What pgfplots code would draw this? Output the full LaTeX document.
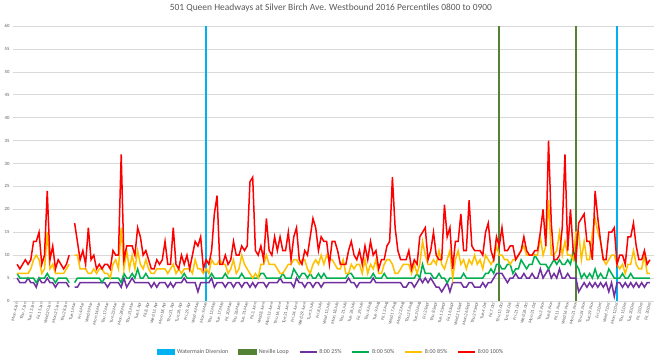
\documentclass[border=0pt]{standalone}
\usepackage{fontspec}
\setmainfont{Carlito}
\usepackage{pgfplots}
\pgfplotsset{compat=1.18}
\usepackage{pgfplotstable}
\definecolor{txt}{HTML}{595959}
\definecolor{gridc}{HTML}{D9D9D9}
\definecolor{wblue}{HTML}{00B0F0}
\definecolor{nloop}{HTML}{548235}
\definecolor{pA}{HTML}{7030A0}
\definecolor{pB}{HTML}{00B050}
\definecolor{pC}{HTML}{FFC000}
\definecolor{pD}{HTML}{FF0000}

\pgfplotstableread{
i r y g p
0 8 6 6 5
1 7 6 5 4
2 8 6 5 4
3 9 6 5 4
4 8 6 5 5
5 9 7 5 4
6 13 9 5 4
7 13 10 4 3
8 15 9 5 5
9 8 6 5 4
10 10 7 5 4
11 24 15 6 5
12 9 7 5 4
13 12 8 5 4
14 7 6 4 3
15 9 6 5 4
16 8 6 5 4
17 7 6 5 4
18 8 7 5 4
19 10 8 4 3
20 nan nan nan nan
21 17 10 4 3
22 13 10 5 3
23 9 7 5 4
24 11 7 5 4
25 8 7 5 4
26 16 6 5 4
27 9 6 5 4
28 10 7 5 4
29 7 6 5 4
30 8 7 5 4
31 7 7 4 4
32 8 6 5 4
33 8 6 5 3
34 7 5 5 4
35 11 8 5 4
36 10 9 5 4
37 10 7 5 4
38 32 16 4 3
39 9 7 6 5
40 12 11 5 3
41 12 7 5 4
42 12 10 6 5
43 10 7 5 4
44 16 11 7 4
45 14 8 5 4
46 10 7 5 4
47 11 9 6 4
48 9 7 5 4
49 7 6 5 3
50 7 6 5 4
51 9 7 5 3
52 8 7 5 4
53 9 7 5 4
54 13 7 5 4
55 8 6 5 3
56 8 7 5 4
57 16 8 5 3
58 8 6 5 4
59 7 7 5 4
60 10 6 5 4
61 8 7 6 5
62 10 7 5 4
63 7 7 5 4
64 10 6 5 4
65 13 9 5 4
66 12 7 5 2
67 14 7 5 4
68 7 6 5 4
69 9 7 5 4
70 8 6 5 4
71 11 9 6 5
72 19 8 5 3
73 23 8 5 4
74 8 9 5 4
75 8 8 5 4
76 10 8 6 3
77 8 6 5 4
78 9 7 5 4
79 13 9 5 3
80 10 6 5 4
81 10 7 5 4
82 12 10 6 3
83 11 8 5 4
84 12 7 5 4
85 26 6 5 3
86 27 5 5 4
87 11 6 5 3
88 10 5 5 4
89 12 8 6 4
90 9 8 6 4
91 18 10 5 3
92 11 8 5 4
93 10 8 5 4
94 14 8 5 4
95 11 7 5 4
96 14 6 5 5
97 11 6 6 4
98 11 7 5 4
99 15 8 5 4
100 9 8 5 4
101 14 9 7 3
102 16 9 6 5
103 9 8 5 4
104 8 9 6 4
105 11 9 6 3
106 10 7 5 4
107 14 6 6 4
108 18 8 5 3
109 16 9 5 4
110 11 8 6 4
111 14 10 5 3
112 13 8 6 4
113 13 10 5 4
114 8 9 5 4
115 13 9 5 4
116 13 8 5 4
117 11 7 5 4
118 8 7 5 4
119 8 9 5 4
120 8 6 5 4
121 11 6 6 5
122 13 8 6 4
123 10 7 5 4
124 9 8 5 3
125 11 8 5 4
126 8 6 5 4
127 12 9 5 4
128 9 6 5 4
129 13 8 5 4
130 10 7 6 5
131 11 9 5 4
132 7 6 5 4
133 9 6 5 4
134 9 8 6 4
135 12 9 5 4
136 13 9 5 4
137 27 8 5 4
138 16 6 5 4
139 11 6 5 4
140 9 7 5 4
141 9 8 5 3
142 9 8 5 3
143 11 8 5 4
144 7 6 5 4
145 9 8 5 3
146 8 6 6 4
147 14 8 5 5
148 15 13 8 4
149 16 10 6 5
150 9 8 6 4
151 11 8 6 5
152 15 9 5 4
153 10 8 5 3
154 9 11 6 3
155 9 8 5 2
156 21 7 5 3
157 14 9 4 4
158 16 11 5 2
159 7 5 5 4
160 13 9 5 4
161 13 11 5 4
162 19 8 5 4
163 11 9 6 3
164 11 7 5 3
165 22 9 5 4
166 12 8 5 4
167 11 10 5 3
168 11 8 5 3
169 11 9 5 3
170 10 7 5 4
171 15 10 6 3
172 17 9 6 4
173 11 8 7 4
174 9 9 6 5
175 14 12 8 6
176 12 10 8 6
177 16 10 7 6
178 11 9 7 5
179 11 9 8 4
180 12 8 8 5
181 12 9 6 5
182 9 9 7 6
183 10 10 7 5
184 11 11 9 5
185 14 12 8 6
186 11 10 7 5
187 10 10 8 5
188 10 10 8 6
189 11 10 10 5
190 11 10 9 5
191 15 14 8 7
192 20 10 8 5
193 12 12 8 6
194 35 22 7 7
195 17 10 8 5
196 9 10 9 6
197 9 11 8 5
198 10 15 9 7
199 16 10 8 5
200 32 13 8 5
201 11 10 9 6
202 20 10 8 5
203 11 9 11 5
204 9 15 8 5
205 17 15 7 2
206 18 9 5 3
207 19 13 6 4
208 13 9 5 3
209 13 9 6 4
210 9 15 5 3
211 24 18 7 4
212 18 15 5 3
213 13 13 6 4
214 9 9 5 3
215 9 8 5 4
216 15 9 7 2
217 15 10 6 4
218 16 10 5 1
219 8 8 5 4
220 10 7 5 4
221 10 8 6 3
222 8 6 5 4
223 14 8 5 3
224 14 8 6 4
225 17 11 5 3
226 12 8 5 4
227 9 7 5 3
228 9 7 5 4
229 11 10 5 3
230 8 6 5 4
231 9 6 5 4
}\data

\begin{document}
\begin{tikzpicture}
\begin{axis}[name=ax, scale only axis, width=641bp, height=275bp,
  xmin=-1.5, xmax=232.5, ymin=0, ymax=60,
  ytick={0,5,...,60}, ymajorgrids,
  major grid style={draw=gridc, line width=0.6bp},
  axis line style={draw=none}, major tick length=0pt,
  xtick={0,3,...,231},
  xticklabels={Mon.4.Jan, Thu.7.Jan, Tue.12.Jan, Fri.15.Jan, Wed.20.Jan, Mon.25.Jan, Thu.28.Jan, Tue.1.Mar, Fri.4.Mar, Wed.9.Mar, Mon.14.Mar, Thu.17.Mar, Tue.22.Mar, Mon.28.Mar, Thu.31.Mar, Tue.5.Apr, Fri.8.Apr, Wed.13.Apr, Mon.18.Apr, Thu.21.Apr, Tue.26.Apr, Fri.29.Apr, Wed.4.May, Mon.9.May, Thu.12.May, Tue.17.May, Fri.20.May, Thu.26.May, Tue.31.May, Fri.3.June, Wed.8.June, Mon.13.June, Thu.16.June, Tue.21.June, Fri.24.June, Wed.29.June, Tue.5.July, Fri.8.July, Wed.13.July, Mon.18.July, Thu.21.July, Tue.26.July, Fri.29.July, Thu.4.Aug, Tue.9.Aug, Fri.12.Aug, Wed.17.Aug, Mon.22.Aug, Thu.25.Aug, Tue.30.Aug, Fri.2.Sept, Thu.8.Sept, Tue.13.Sept, Fri.16.Sept, Wed.21.Sept, Mon.26.Sept, Thu.29.Sept, Tue.4.Oct, Fri.7.Oct, Thu.13.Oct, Tue.18.Oct, Fri.21.Oct, Wed.26.Oct, Mon.31.Oct, Thu.3.Nov, Tue.8.Nov, Fri.11.Nov, Wed.16.Nov, Mon.21.Nov, Thu.24.Nov, Tue.29.Nov, Fri.2.Dec, Wed.7.Dec, Mon.12.Dec, Thu.15.Dec, Tue.20.Dec, Fri.23.Dec, Fri.30.Dec},
  xticklabel style={rotate=78, anchor=east, font=\fontsize{4.5}{5}\selectfont, text=txt, inner sep=1.2bp},
  yticklabel style={font=\fontsize{4.8}{5}\selectfont, text=txt},
  /pgf/number format/assume math mode=true,
  unbounded coords=jump,
  title={501 Queen Headways at Silver Birch Ave. Westbound 2016 Percentiles 0800 to 0900},
  title style={font=\fontsize{9.5}{11}\selectfont, text=txt, at={(0.496,1)}, anchor=center, yshift=12bp},
  legend columns=-1,
  legend style={at={(0.496,-0.185)}, anchor=center, draw=none, fill=none,
    font=\fontsize{6}{7}\selectfont, text=txt,
    /tikz/every even column/.append style={column sep=8bp}},
  legend image code/.code={\draw[#1, line width=1.5bp] (0bp,0bp) -- (17bp,0bp);},
]
\addplot[ycomb, draw=wblue, line width=1.6bp,
  legend image code/.code={\fill[wblue] (0bp,-2bp) rectangle (17bp,2bp);}]
  coordinates {(69,60) (219,60)};
\addlegendentry{Watermain Diversion}
\addplot[ycomb, draw=nloop, line width=1.6bp,
  legend image code/.code={\fill[nloop] (0bp,-2bp) rectangle (17bp,2bp);}]
  coordinates {(176,60) (204,60)};
\addlegendentry{Neville Loop}
\addplot[pA, line width=1.5bp] table[x=i, y=p] {\data};
\addlegendentry{8:00 25\%}
\addplot[pB, line width=1.5bp] table[x=i, y=g] {\data};
\addlegendentry{8:00 50\%}
\addplot[pC, line width=1.5bp] table[x=i, y=y] {\data};
\addlegendentry{8:00 85\%}
\addplot[pD, line width=1.5bp] table[x=i, y=r] {\data};
\addlegendentry{8:00 100\%}
\end{axis}
\pgfresetboundingbox
\path ([xshift=-13bp,yshift=-60bp]ax.south west) rectangle ([xshift=6bp,yshift=26bp]ax.north east);
\end{tikzpicture}
\end{document}
